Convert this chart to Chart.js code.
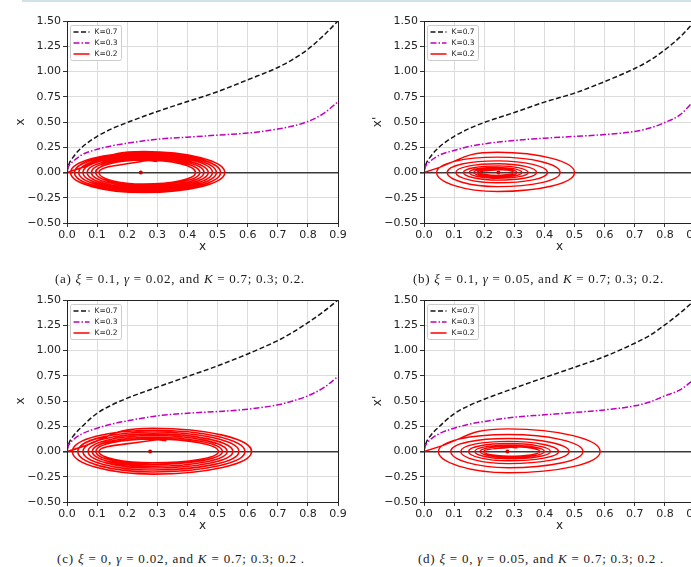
<!DOCTYPE html>
<html>
<head>
<meta charset="utf-8">
<script src="https://cdn.jsdelivr.net/npm/chart.js@4.4.0/dist/chart.umd.min.js"></script>
<style>
    html, body { margin: 0; padding: 0; background: #fff; width: 691px; height: 567px; overflow: hidden; position: relative; }
    .panel { position: absolute; }
    .topline { position: absolute; left: 22px; top: 0; width: 669px; height: 2px; background: #cfe2e6; }
    .cap { position: absolute; font-family: 'Liberation Serif', serif; font-size: 13px; color: #1a1a1a; white-space: nowrap; line-height: 15px; }
    .cap i { font-style: italic; }
</style>
</head>
<body>
<div class="topline"></div>
<canvas id="chartA" class="panel" width="350" height="270" style="left:0;top:0"></canvas>
<canvas id="chartB" class="panel" width="350" height="270" style="left:357px;top:0"></canvas>
<canvas id="chartC" class="panel" width="350" height="270" style="left:0;top:279px"></canvas>
<canvas id="chartD" class="panel" width="350" height="270" style="left:357px;top:279px"></canvas>
<div class="cap" data-w="250" style="left:55px;top:271px">(a) <i>ξ</i> = 0.1, <i>γ</i> = 0.02, and <i>K</i> = 0.7; 0.3; 0.2.</div>
<div class="cap" data-w="251" style="left:413px;top:271px">(b) <i>ξ</i> = 0.1, <i>γ</i> = 0.05, and <i>K</i> = 0.7; 0.3; 0.2.</div>
<div class="cap" data-w="248" style="left:57px;top:551px">(c) <i>ξ</i> = 0, <i>γ</i> = 0.02, and <i>K</i> = 0.7; 0.3; 0.2 .</div>
<div class="cap" data-w="246" style="left:418px;top:551px">(d) <i>ξ</i> = 0, <i>γ</i> = 0.05, and <i>K</i> = 0.7; 0.3; 0.2 .</div>
<script>
// sample positions along x for the two open curves
const xs = [0, 0.005, 0.02, 0.05, 0.1, 0.15, 0.2, 0.3, 0.4, 0.5, 0.6, 0.7, 0.75, 0.8, 0.85, 0.9];

const kLabels = ['K=0.7', 'K=0.3', 'K=0.2'];

// K=0.7 (black dashed)
const blackA = [0, 0.07, 0.15, 0.25, 0.357, 0.435, 0.495, 0.604, 0.703, 0.80, 0.918, 1.04, 1.12, 1.22, 1.35, 1.50];
const blackB = [0, 0.07, 0.15, 0.25, 0.357, 0.435, 0.495, 0.594, 0.697, 0.786, 0.90, 1.03, 1.11, 1.215, 1.34, 1.50];
const blackC = [0, 0.07, 0.15, 0.247, 0.379, 0.462, 0.528, 0.637, 0.742, 0.848, 0.966, 1.098, 1.18, 1.276, 1.38, 1.50];
const blackD = [0, 0.07, 0.15, 0.245, 0.373, 0.455, 0.518, 0.627, 0.732, 0.834, 0.94, 1.072, 1.15, 1.253, 1.37, 1.50];

// K=0.3 (magenta dash-dot)
const magentaA = [0.03, 0.06, 0.11, 0.175, 0.23, 0.265, 0.29, 0.33, 0.35, 0.37, 0.39, 0.43, 0.46, 0.505, 0.58, 0.70];
const magentaB = [0.03, 0.06, 0.11, 0.17, 0.218, 0.258, 0.284, 0.317, 0.34, 0.357, 0.376, 0.406, 0.44, 0.495, 0.57, 0.72];
const magentaC = [0.03, 0.06, 0.115, 0.175, 0.231, 0.272, 0.303, 0.353, 0.379, 0.396, 0.419, 0.462, 0.50, 0.551, 0.627, 0.742];
const magentaD = [0.03, 0.06, 0.115, 0.175, 0.231, 0.27, 0.297, 0.34, 0.363, 0.386, 0.412, 0.452, 0.49, 0.551, 0.61, 0.72];

// K=0.2 (red spiral): per turn, left crossing of x'=0, top, right crossing, bottom.
// the last turn stops just after its top (spiralEnd), so right/bottom have one entry less
const ringLeftA = [0.000, 0.012, 0.025, 0.039, 0.053, 0.067, 0.081, 0.095, 0.106];
const ringTopA = [0.208, 0.196, 0.184, 0.172, 0.160, 0.148, 0.136, 0.124, 0.114];
const ringRightA = [0.524, 0.510, 0.496, 0.483, 0.469, 0.455, 0.441, 0.427];
const ringBottomA = [-0.198, -0.186, -0.174, -0.162, -0.150, -0.138, -0.126, -0.115];

const ringLeftB = [0.000, 0.042, 0.077, 0.106, 0.131, 0.150, 0.165, 0.177, 0.186];
const ringTopB = [0.200, 0.152, 0.115, 0.087, 0.066, 0.051, 0.040, 0.032, 0.026];
const ringRightB = [0.500, 0.452, 0.410, 0.374, 0.346, 0.325, 0.309, 0.297];
const ringBottomB = [-0.188, -0.140, -0.102, -0.075, -0.057, -0.044, -0.035, -0.028];

const ringLeftC = [0.000, 0.018, 0.036, 0.053, 0.070, 0.084, 0.096, 0.106];
const ringTopC = [0.230, 0.211, 0.193, 0.175, 0.158, 0.141, 0.125, 0.112];
const ringRightC = [0.613, 0.591, 0.571, 0.551, 0.532, 0.516, 0.503];
const ringBottomC = [-0.224, -0.203, -0.183, -0.164, -0.146, -0.128, -0.112];

const ringLeftD = [0.000, 0.048, 0.089, 0.122, 0.148, 0.169, 0.186, 0.198];
const ringTopD = [0.224, 0.168, 0.128, 0.100, 0.079, 0.063, 0.050, 0.040];
const ringRightD = [0.585, 0.528, 0.482, 0.447, 0.420, 0.400, 0.385];
const ringBottomD = [-0.211, -0.161, -0.120, -0.092, -0.072, -0.058, -0.046];

// where each spiral stops
const spiralEndX = [0.300, 0.275, 0.330, 0.310];
const spiralEndY = [0.110, 0.024, 0.108, 0.037];

// x position of the top/bottom of each turn, and the equilibrium point
const peakX = [0.255, 0.245, 0.285, 0.28];
const centerX = [0.245, 0.247, 0.276, 0.277];

const yTitles = ['x', "x'", 'x', "x'"];

function curvePoints(ys) {
    return xs.map((x, i) => ({ x: x, y: ys[i] }));
}

function spiralPoints(idx, left, top, right, bottom) {
    const px = peakX[idx];
    const pts = [];
    left.forEach((l, i) => {
        pts.push({ x: l, y: 0 }, { x: px, y: top[i] });
        if (i < right.length) pts.push({ x: right[i], y: 0 }, { x: px, y: bottom[i] });
    });
    pts.push({ x: spiralEndX[idx], y: spiralEndY[idx] });
    return pts;
}

const framePlugin = {
    id: 'frame',
    afterDatasetsDraw(chart) {
        const { ctx, chartArea: a } = chart;
        ctx.save();
        ctx.strokeStyle = '#222';
        ctx.lineWidth = 1;
        ctx.strokeRect(Math.round(a.left) + 0.5, Math.round(a.top) + 0.5, Math.round(a.right - a.left), Math.round(a.bottom - a.top));
        ctx.restore();
    }
};

const legendPlugin = {
    id: 'boxLegend',
    afterDraw(chart) {
        const { ctx, chartArea: a } = chart;
        const bx = a.left + 3.5, by = a.top + 4.5, bw = 51, bh = 35;
        ctx.save();
        ctx.fillStyle = 'rgba(255,255,255,0.85)';
        ctx.strokeStyle = '#cccccc';
        ctx.lineWidth = 1;
        ctx.beginPath();
        ctx.roundRect(bx, by, bw, bh, 2);
        ctx.fill();
        ctx.stroke();
        ctx.font = '7.5px "DejaVu Sans"';
        ctx.textBaseline = 'middle';
        kLabels.forEach((label, i) => {
            const ds = chart.data.datasets.find(d => d.label === label);
            const y = by + 6.5 + i * 11;
            ctx.strokeStyle = ds.borderColor;
            ctx.lineWidth = 1.5;
            ctx.setLineDash(ds.borderDash || []);
            ctx.beginPath();
            ctx.moveTo(bx + 3, y);
            ctx.lineTo(bx + 19, y);
            ctx.stroke();
            ctx.setLineDash([]);
            ctx.fillStyle = '#222';
            ctx.fillText(label, bx + 24, y + 0.5);
        });
        ctx.restore();
    }
};

function makeChart(id, idx, black, magenta, spiral, spiralWidth) {
    const tickFont = { family: 'DejaVu Sans', size: 11 };
    return new Chart(document.getElementById(id), {
        type: 'scatter',
        data: {
            datasets: [
                {
                    data: [{ x: centerX[idx], y: 0 }],
                    pointRadius: 2,
                    pointBackgroundColor: '#cc0000',
                    pointBorderWidth: 0,
                    showLine: false
                },
                {
                    label: kLabels[2],
                    data: spiral,
                    showLine: true,
                    borderColor: '#ff0000',
                    borderWidth: spiralWidth,
                    pointRadius: 0,
                    tension: 0.55
                },
                {
                    label: kLabels[1],
                    data: curvePoints(magenta),
                    showLine: true,
                    borderColor: '#bf00bf',
                    borderWidth: 1.5,
                    borderDash: [6, 2, 1.5, 2],
                    pointRadius: 0,
                    cubicInterpolationMode: 'monotone'
                },
                {
                    label: kLabels[0],
                    data: curvePoints(black),
                    showLine: true,
                    borderColor: '#161616',
                    borderWidth: 1.5,
                    borderDash: [5, 2.5],
                    pointRadius: 0,
                    cubicInterpolationMode: 'monotone'
                }
            ]
        },
        options: {
            responsive: false,
            animation: false,
            layout: { padding: { top: 21, right: 12, left: 0, bottom: 0 } },
            plugins: { legend: { display: false }, tooltip: { enabled: false } },
            scales: {
                x: {
                    type: 'linear',
                    min: 0,
                    max: 0.9,
                    afterFit: (s) => { s.height = 47; },
                    border: { display: false },
                    grid: { color: '#dcdcdc', lineWidth: 1, tickLength: 4, tickColor: '#333' },
                    ticks: { stepSize: 0.1, padding: 2, color: '#222', font: tickFont, maxRotation: 0,
                        callback: (v) => Number(v).toFixed(1) },
                    title: { display: true, text: 'x', color: '#222', font: { family: 'DejaVu Sans', size: 12 },
                        padding: { top: 0, bottom: 16 } }
                },
                y: {
                    min: -0.5,
                    max: 1.5,
                    afterFit: (s) => { s.width = 67; },
                    border: { display: false },
                    grid: {
                        color: (c) => (c.tick && c.tick.value === 0 ? '#3a3a3a' : '#dcdcdc'),
                        lineWidth: (c) => (c.tick && c.tick.value === 0 ? 1.6 : 1),
                        tickLength: 4,
                        tickColor: '#333'
                    },
                    ticks: { stepSize: 0.25, padding: 2, color: '#222', font: tickFont,
                        callback: (v) => (v < 0 ? '\u2212' + Math.abs(v).toFixed(2) : Number(v).toFixed(2)) },
                    title: { display: true, text: yTitles[idx], color: '#222', font: { family: 'DejaVu Sans', size: 12 },
                        padding: { top: 14, bottom: 0 } }
                }
            }
        },
        plugins: [framePlugin, legendPlugin]
    });
}

makeChart('chartA', 0, blackA, magentaA, spiralPoints(0, ringLeftA, ringTopA, ringRightA, ringBottomA), 1.6);
makeChart('chartB', 1, blackB, magentaB, spiralPoints(1, ringLeftB, ringTopB, ringRightB, ringBottomB), 1.4);
makeChart('chartC', 2, blackC, magentaC, spiralPoints(2, ringLeftC, ringTopC, ringRightC, ringBottomC), 1.6);
makeChart('chartD', 3, blackD, magentaD, spiralPoints(3, ringLeftD, ringTopD, ringRightD, ringBottomD), 1.4);

// stretch captions to the width they take in the original figure
document.querySelectorAll('.cap').forEach(el => {
    const target = Number(el.dataset.w);
    const chars = el.textContent.length;
    const extra = (target - el.getBoundingClientRect().width) / chars;
    el.style.letterSpacing = extra.toFixed(2) + 'px';
});
</script>
</body>
</html>
